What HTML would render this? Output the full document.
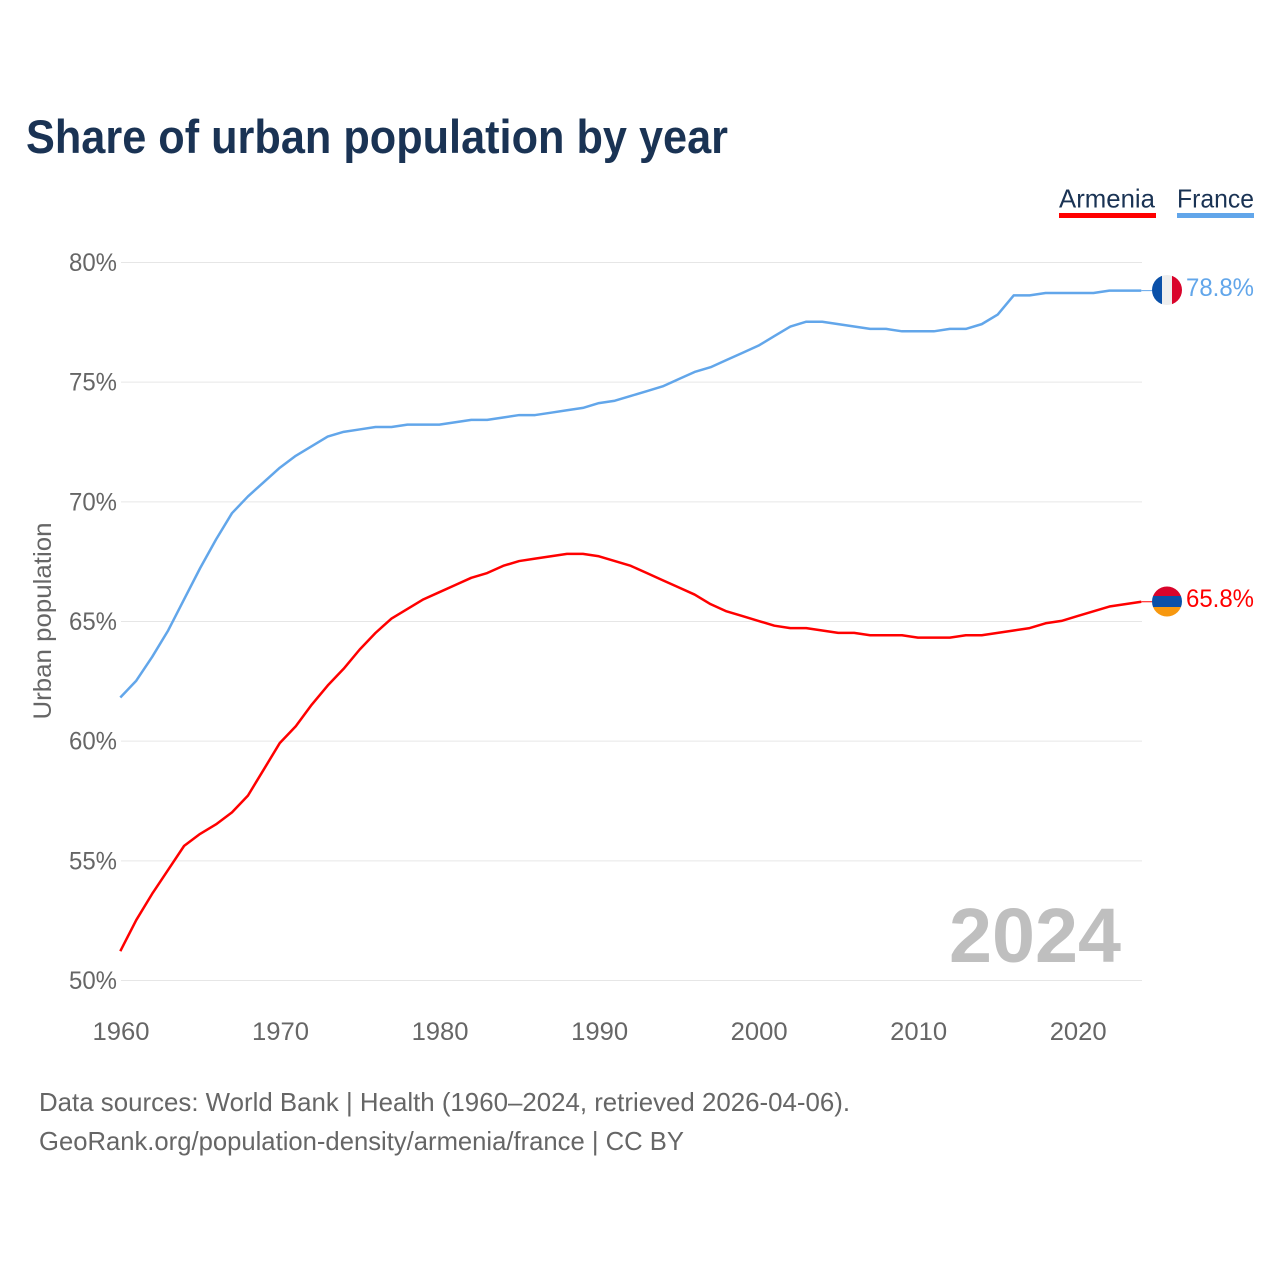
<!DOCTYPE html>
<html lang="en">
<head>
<meta charset="utf-8">
<title>Share of urban population by year</title>
<style>
html,body{margin:0;padding:0;background:#fff;width:1280px;height:1280px;overflow:hidden}
svg{display:block}
text{font-family:"Liberation Sans",sans-serif}
</style>
</head>
<body>
<svg id="chart" xmlns="http://www.w3.org/2000/svg" width="1280" height="1280" viewBox="0 0 1280 1280">
  <defs>
    <clipPath id="flag-clip-fr"><circle cx="1167" cy="290" r="15"/></clipPath>
    <clipPath id="flag-clip-am"><circle cx="1167" cy="601.5" r="15"/></clipPath>
  </defs>
  <text x="26" y="153" font-size="47" font-weight="700" fill="#1a3354" textLength="702" lengthAdjust="spacingAndGlyphs">Share of urban population by year</text>

  <g>
    <text x="1059" y="207.5" font-size="26" fill="#1a3354" textLength="96" lengthAdjust="spacingAndGlyphs">Armenia</text>
    <rect x="1059" y="213" width="97" height="5" fill="#ff0000"/>
  </g>
  <g>
    <text x="1177" y="207.5" font-size="26" fill="#1a3354" textLength="77" lengthAdjust="spacingAndGlyphs">France</text>
    <rect x="1177" y="213" width="77" height="5" fill="#62a6ea"/>
  </g>

  <g id="grid"></g>
  <g id="y-labels"></g>
  <g id="x-labels"></g>

  <text transform="translate(51,621) rotate(-90)" text-anchor="middle" font-size="25" fill="#666666" textLength="197" lengthAdjust="spacingAndGlyphs">Urban population</text>

  <text x="949" y="962" font-size="77" font-weight="700" fill="#bfbfbf" textLength="172" lengthAdjust="spacingAndGlyphs">2024</text>

  <g id="series" transform="translate(-0.7,-0.6)"></g>

  <g clip-path="url(#flag-clip-fr)">
    <rect x="1152" y="275" width="10" height="30" fill="#0a50a8"/>
    <rect x="1162" y="275" width="10" height="30" fill="#eeeeee"/>
    <rect x="1172" y="275" width="10" height="30" fill="#d9042b"/>
  </g>
  <g clip-path="url(#flag-clip-am)">
    <rect x="1152" y="586" width="30" height="10" fill="#d9042b"/>
    <rect x="1152" y="596" width="30" height="11" fill="#0a50a8"/>
    <rect x="1152" y="607" width="30" height="10" fill="#f7980f"/>
  </g>

  <text x="1186" y="296" font-size="25" fill="#62a6ea" textLength="68" lengthAdjust="spacingAndGlyphs">78.8%</text>
  <text x="1186" y="607" font-size="25" fill="#ff0000" textLength="68" lengthAdjust="spacingAndGlyphs">65.8%</text>

  <text x="39" y="1111" font-size="26" fill="#666666" textLength="811" lengthAdjust="spacingAndGlyphs">Data sources: World Bank | Health (1960–2024, retrieved 2026-04-06).</text>
  <text x="39" y="1150" font-size="26" fill="#666666" textLength="645" lengthAdjust="spacingAndGlyphs">GeoRank.org/population-density/armenia/france | CC BY</text>
</svg>
<script>
const startYear = 1960;
const yTicks = [50, 55, 60, 65, 70, 75, 80];
const xTicks = [1960, 1970, 1980, 1990, 2000, 2010, 2020];
const armeniaValues = [51.2,52.5,53.6,54.6,55.6,56.1,56.5,57.0,57.7,58.8,59.9,60.6,61.5,62.3,63.0,63.8,64.5,65.1,65.5,65.9,66.2,66.5,66.8,67.0,67.3,67.5,67.6,67.7,67.8,67.8,67.7,67.5,67.3,67.0,66.7,66.4,66.1,65.7,65.4,65.2,65.0,64.8,64.7,64.7,64.6,64.5,64.5,64.4,64.4,64.4,64.3,64.3,64.3,64.4,64.4,64.5,64.6,64.7,64.9,65.0,65.2,65.4,65.6,65.7,65.8];
const franceValues = [61.8,62.5,63.5,64.6,65.9,67.2,68.4,69.5,70.2,70.8,71.4,71.9,72.3,72.7,72.9,73.0,73.1,73.1,73.2,73.2,73.2,73.3,73.4,73.4,73.5,73.6,73.6,73.7,73.8,73.9,74.1,74.2,74.4,74.6,74.8,75.1,75.4,75.6,75.9,76.2,76.5,76.9,77.3,77.5,77.5,77.4,77.3,77.2,77.2,77.1,77.1,77.1,77.2,77.2,77.4,77.8,78.6,78.6,78.7,78.7,78.7,78.7,78.8,78.8,78.8];

const NS = 'http://www.w3.org/2000/svg';
function xScale(year) { return 121 + (year - 1960) * (1142 - 121) / 64; }
function yScale(v) { return 980.5 - (v - 50) * (980.5 - 262.5) / 30; }

const grid = document.getElementById('grid');
const yLabels = document.getElementById('y-labels');
const xLabels = document.getElementById('x-labels');
const series = document.getElementById('series');

yTicks.forEach(function (t) {
  const line = document.createElementNS(NS, 'line');
  
  
  line.setAttribute('x1', 121);
  line.setAttribute('x2', 1142);
  line.setAttribute('y1', yScale(t));
  line.setAttribute('y2', yScale(t));
  line.setAttribute('stroke', '#e6e6e6');
  line.setAttribute('stroke-width', 1);
  grid.appendChild(line);

  const label = document.createElementNS(NS, 'text');
  
  
  label.setAttribute('x', 69);
  label.setAttribute('y', yScale(t) + 8.5);
  label.setAttribute('font-size', 25);
  label.setAttribute('fill', '#666666');
  label.setAttribute('textLength', 48);
  label.setAttribute('lengthAdjust', 'spacingAndGlyphs');
  label.textContent = t + '%';
  yLabels.appendChild(label);
});

xTicks.forEach(function (t) {
  const label = document.createElementNS(NS, 'text');
  
  
  label.setAttribute('x', xScale(t) - 28.5);
  label.setAttribute('y', 1040);
  label.setAttribute('font-size', 25);
  label.setAttribute('fill', '#666666');
  label.setAttribute('textLength', 57);
  label.setAttribute('lengthAdjust', 'spacingAndGlyphs');
  label.textContent = t;
  xLabels.appendChild(label);
});

function drawSeries(values, color, name) {
  const points = values.map(function (v, i) {
    return xScale(startYear + i).toFixed(2) + ',' + yScale(v).toFixed(2);
  });
  const path = document.createElementNS(NS, 'polyline');
  
  
  path.setAttribute('points', points.join(' '));
  path.setAttribute('fill', 'none');
  path.setAttribute('stroke', color);
  path.setAttribute('stroke-width', 2.5);
  path.setAttribute('stroke-linejoin', 'round');
  series.appendChild(path);

  const last = values[values.length - 1];
  const stub = document.createElementNS(NS, 'line');
  
  
  stub.setAttribute('x1', xScale(startYear + values.length - 1));
  stub.setAttribute('x2', 1153);
  stub.setAttribute('y1', yScale(last));
  stub.setAttribute('y2', yScale(last));
  stub.setAttribute('stroke', color);
  stub.setAttribute('stroke-width', 1);
  series.appendChild(stub);
}

drawSeries(armeniaValues, '#ff0000', 'line-armenia');
drawSeries(franceValues, '#62a6ea', 'line-france');
</script>
</body>
</html>
